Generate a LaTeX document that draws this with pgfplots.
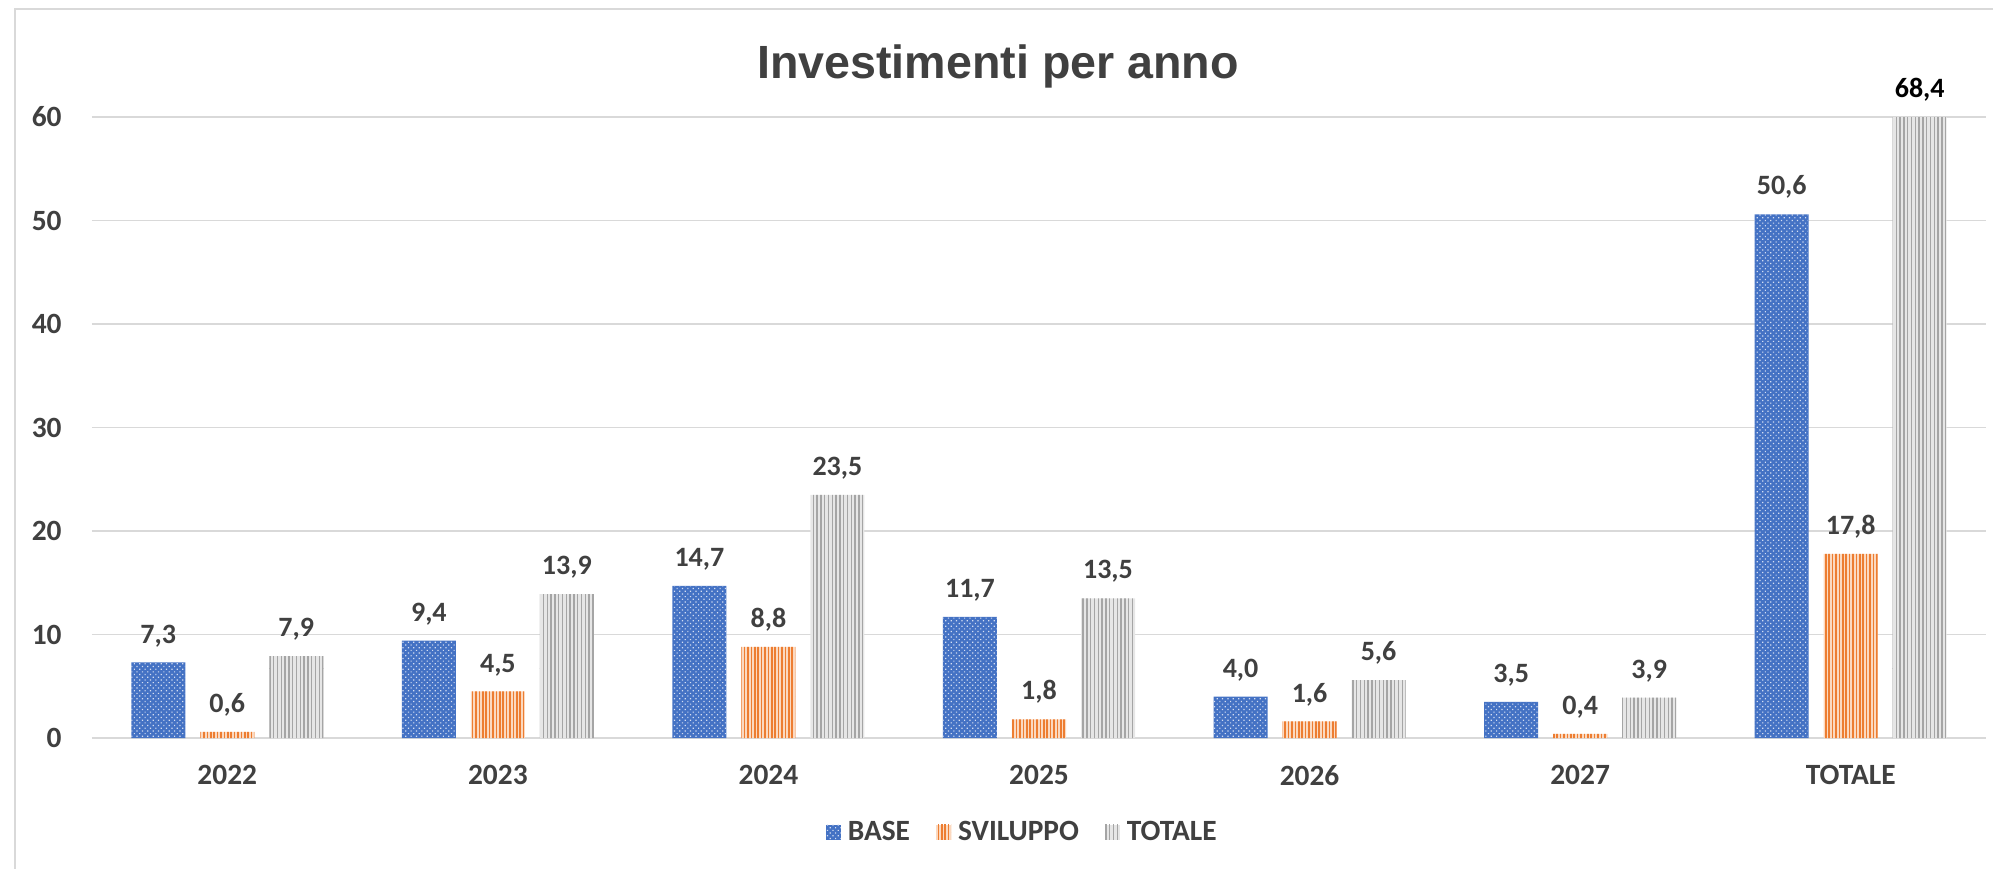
\documentclass[border=0pt]{standalone}
\usepackage{fontspec}
\setmainfont{Carlito}
\newfontfamily\titlefont{Liberation Sans}
\usepackage{pgfplots}
\pgfplotsset{compat=1.18}
\usetikzlibrary{patterns.meta}
\definecolor{cbase}{HTML}{4472C4}
\definecolor{cdot}{HTML}{D5DEF2}
\definecolor{csvil}{HTML}{ED7D31}
\definecolor{csvilbg}{HTML}{FBD9C0}
\definecolor{ctot}{HTML}{A5A5A5}
\definecolor{ctotbg}{HTML}{E6E6E6}
\definecolor{ctext}{HTML}{404040}
\definecolor{cgrid}{HTML}{D9D9D9}
\begin{document}
\begin{tikzpicture}
\useasboundingbox (-46pt,-65pt) rectangle (950.5pt,369pt);
\draw[cgrid, line width=0.75pt] (-38.5pt,-66pt) -- (-38.5pt,364.5pt) -- (951pt,364.5pt);
\node[anchor=base, text=ctext, font=\titlefont\fontsize{23.3}{28}\selectfont\bfseries] at (453pt,329.5pt) {Investimenti per anno};
\begin{axis}[
  scale only axis, width=947pt, height=310.5pt,
  ybar=7.5pt, bar width=27pt,
  xmin=-0.5, xmax=6.5, ymin=0, ymax=60,
  enlargelimits=false,
  xtick={0,...,6},
  xticklabels={2022,2023,2024,2025,2026,2027,TOTALE},
  ytick={0,10,...,60},
  ymajorgrids, grid style={cgrid, line width=0.75pt},
  axis line style={draw=none},
  major tick length=0pt,
  tick label style={font=\fontsize{14.7}{17}\selectfont\bfseries, text=ctext},
  yticklabel style={inner sep=0pt, xshift=-15pt},
  xticklabel style={inner sep=0pt, yshift=-13.5pt},
  /pgf/number format/assume math mode=true,
  point meta=rawy,
  nodes near coords={\pgfmathprintnumber[fixed,fixed zerofill,precision=1,use comma]{\pgfplotspointmeta}},
  every node near coord/.append style={font=\fontsize{14}{16}\selectfont\bfseries, text=ctext, inner sep=0pt, text depth=0pt, yshift=9.5pt},
  legend columns=3,
  legend style={draw=none, fill=none, at={(0.4917,-0.1514)}, anchor=center,
    font=\fontsize{14.7}{17}\selectfont\bfseries, text=ctext,
    /tikz/every odd column/.append style={column sep=1.5pt},
    /tikz/every even column/.append style={column sep=11pt}},
  legend image code/.code={\fill[#1] (0pt,-3.75pt) rectangle (7.5pt,3.75pt);},
]
\addplot[fill=cbase, draw=none, postaction={pattern={Dots[angle=45,distance=1.9pt,radius=0.42pt]}, pattern color=cdot}]
  coordinates {(0,7.3) (1,9.4) (2,14.7) (3,11.7) (4,4.0) (5,3.5) (6,50.6)};
\addplot[fill=csvilbg, draw=none, postaction={pattern={Lines[angle=90,distance=1.7pt,line width=0.8pt]}, pattern color=csvil}]
  coordinates {(0,0.6) (1,4.5) (2,8.8) (3,1.8) (4,1.6) (5,0.4) (6,17.8)};
\addplot[fill=ctotbg, draw=none, postaction={pattern={Lines[angle=90,distance=1.9pt,line width=0.7pt]}, pattern color=ctot},
  y filter/.expression={min(y,60)},
  nodes near coords={\ifdim\pgfplotspointmetatransformed pt>999pt\color{black}\fi\pgfmathprintnumber[fixed,fixed zerofill,precision=1,use comma]{\pgfplotspointmeta}}]
  coordinates {(0,7.9) (1,13.9) (2,23.5) (3,13.5) (4,5.6) (5,3.9) (6,68.4)};
\legend{BASE, SVILUPPO, TOTALE}
\end{axis}
\end{tikzpicture}
\end{document}
